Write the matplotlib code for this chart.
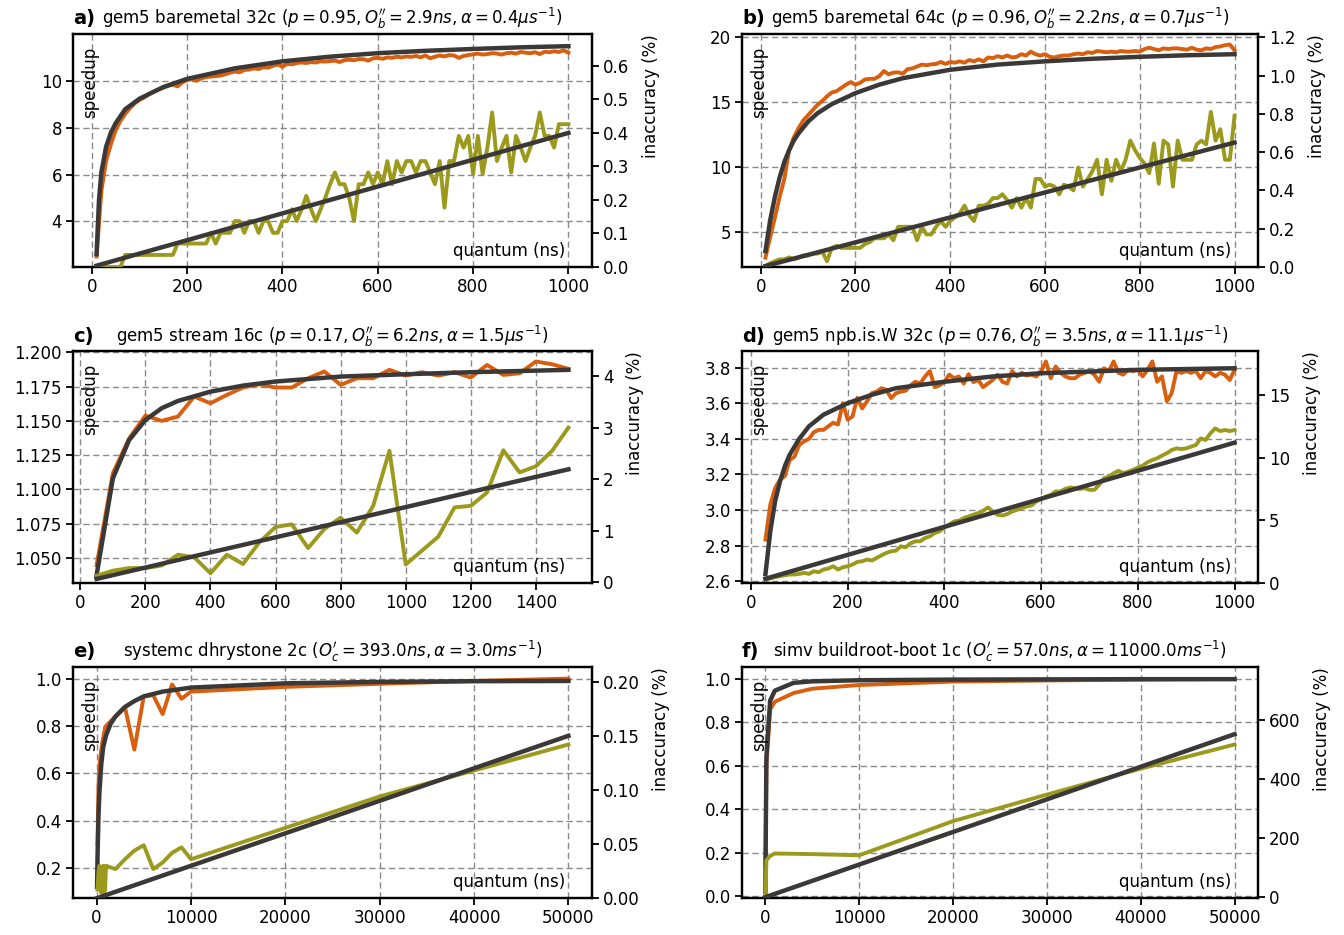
import matplotlib
matplotlib.use("Agg")
import matplotlib.pyplot as plt
from matplotlib.ticker import FixedLocator, FormatStrFormatter

# ---------------- data ----------------
# a) gem5 baremetal 32c
a_q = list(range(10, 1001, 10))
a_speed = [2.5, 5.3, 6.6, 7.3, 7.9, 8.3, 8.6, 8.85, 9.05, 9.2,
           9.3, 9.45, 9.55, 9.65, 9.72, 9.8, 9.85, 9.78, 9.95, 10.05,
           10.08, 10.02, 10.12, 10.18, 10.2, 10.22, 10.24, 10.3, 10.36, 10.42,
           10.38, 10.48, 10.5, 10.55, 10.52, 10.6, 10.58, 10.66, 10.72, 10.62,
           10.74, 10.72, 10.78, 10.8, 10.78, 10.82, 10.8, 10.85, 10.84, 10.86,
           10.88, 10.82, 10.9, 10.92, 10.9, 10.95, 10.94, 10.88, 10.98, 11.0,
           10.96, 11.02, 11.0, 11.05, 11.02, 11.06, 11.04, 11.08, 11.02, 11.1,
           10.98, 11.05, 11.1, 11.06, 11.12, 11.1, 11.0, 11.08, 11.12, 11.15,
           11.18, 11.14, 11.16, 11.2, 11.18, 11.14, 11.2, 11.22, 11.18, 11.25,
           11.22, 11.2, 11.24, 11.16, 11.26, 11.24, 11.28, 11.25, 11.32, 11.22]
a_inacc = [0.0, 0.0, 0.0, 0.0, 0.0, 0.0, 0.036, 0.036, 0.036, 0.036,
           0.036, 0.036, 0.036, 0.036, 0.036, 0.036, 0.036, 0.07, 0.07, 0.07,
           0.07, 0.07, 0.07, 0.07, 0.102, 0.07, 0.102, 0.102, 0.102, 0.137,
           0.137, 0.102, 0.137, 0.137, 0.102, 0.137, 0.137, 0.102, 0.102, 0.137,
           0.137, 0.172, 0.137, 0.172, 0.212, 0.172, 0.137, 0.172, 0.207, 0.247,
           0.282, 0.247, 0.247, 0.207, 0.137, 0.247, 0.247, 0.282, 0.247, 0.282,
           0.247, 0.316, 0.247, 0.316, 0.282, 0.316, 0.316, 0.282, 0.316, 0.316,
           0.282, 0.247, 0.316, 0.177, 0.316, 0.316, 0.391, 0.356, 0.391, 0.277,
           0.391, 0.277, 0.356, 0.461, 0.316, 0.356, 0.391, 0.282, 0.391, 0.356,
           0.316, 0.356, 0.391, 0.461, 0.391, 0.391, 0.356, 0.426, 0.426, 0.426]
a_fit_q = [10, 15, 20, 30, 40, 50, 70, 100, 150, 200, 300, 400, 500, 600, 700, 800, 900, 1000]
a_fit_speed = [2.6, 4.9, 6.1, 7.2, 7.8, 8.2, 8.8, 9.25, 9.75, 10.1, 10.55, 10.85, 11.05, 11.2, 11.3, 11.38, 11.45, 11.5]
a_line_q = [10, 1000]
a_line_inacc = [0.004, 0.40]

# b) gem5 baremetal 64c
b_q = list(range(10, 1001, 10))
b_speed = [3.0, 4.6, 6.1, 7.7, 9.1, 11.3, 12.3, 13.0, 13.6, 14.0,
           14.4, 14.8, 15.1, 15.45, 15.75, 15.85, 16.1, 16.35, 16.55, 16.35,
           16.5, 16.75, 16.8, 16.8, 17.0, 17.4, 17.15, 17.28, 17.3, 17.2,
           17.55, 17.6, 17.75, 17.9, 17.85, 17.92, 17.95, 18.1, 17.95, 18.1,
           18.05, 18.15, 18.05, 18.25, 18.15, 18.3, 18.15, 18.45, 18.4, 18.55,
           18.45, 18.6, 18.45, 18.5, 18.7, 18.6, 18.9, 18.7, 18.6, 18.7,
           18.5, 18.45, 18.55, 18.6, 18.6, 18.7, 18.75, 18.7, 18.85, 18.8,
           18.95, 18.9, 18.85, 18.9, 18.85, 18.95, 18.9, 18.9, 18.95, 18.9,
           19.1, 19.2, 19.1, 19.0, 19.15, 19.1, 19.15, 19.15, 19.1, 19.05,
           19.2, 19.05, 19.0, 19.15, 19.1, 19.25, 19.3, 19.4, 19.45, 19.0]
b_inacc = [0.005, 0.02, 0.03, 0.04, 0.04, 0.05, 0.04, 0.05, 0.06, 0.06,
           0.07, 0.07, 0.08, 0.03, 0.1, 0.11, 0.1, 0.1, 0.1, 0.1,
           0.1, 0.12, 0.13, 0.15, 0.15, 0.15, 0.17, 0.14, 0.21, 0.21,
           0.21, 0.21, 0.14, 0.21, 0.17, 0.17, 0.21, 0.24, 0.21, 0.24,
           0.26, 0.28, 0.32, 0.27, 0.24, 0.32, 0.32, 0.33, 0.36, 0.36,
           0.38, 0.35, 0.31, 0.36, 0.31, 0.36, 0.31, 0.46, 0.46, 0.42,
           0.43, 0.42, 0.38, 0.43, 0.42, 0.4, 0.52, 0.42, 0.46, 0.5,
           0.56, 0.38, 0.56, 0.45, 0.56, 0.5, 0.56, 0.66, 0.61, 0.57,
           0.54, 0.49, 0.645, 0.435, 0.66, 0.64, 0.42, 0.66, 0.56, 0.56,
           0.56, 0.64, 0.66, 0.64, 0.81, 0.66, 0.72, 0.56, 0.56, 0.79]
b_fit_q = [10, 20, 30, 40, 50, 60, 70, 80, 100, 120, 150, 200, 250, 300, 400, 500, 600, 700, 800, 900, 1000]
b_fit_speed = [3.5, 5.9, 7.7, 9.2, 10.4, 11.3, 12.05, 12.6, 13.5, 14.15, 14.85, 15.7, 16.35, 16.85, 17.5, 17.9, 18.15, 18.35, 18.5, 18.62, 18.7]
b_line_q = [10, 1000]
b_line_inacc = [0.005, 0.65]

# c) gem5 stream 16c
c_q = list(range(50, 1501, 50))
c_speed = [1.0446, 1.1117, 1.1372, 1.1538, 1.150, 1.1531, 1.1677, 1.1628, 1.1689, 1.1743,
           1.1767, 1.1743, 1.1743, 1.1811, 1.186, 1.1762, 1.1811, 1.1811, 1.1872, 1.183,
           1.1855, 1.183, 1.1855, 1.1816, 1.1908, 1.1835, 1.1847, 1.1933, 1.1913, 1.1879]
c_inacc = [0.12, 0.22, 0.27, 0.27, 0.32, 0.53, 0.48, 0.17, 0.53, 0.35,
           0.77, 1.07, 1.12, 0.66, 1.03, 1.25, 0.96, 1.48, 2.55, 0.34,
           0.61, 0.88, 1.45, 1.48, 1.74, 2.56, 2.13, 2.25, 2.55, 3.0]
c_fit_q = [50, 100, 150, 200, 250, 300, 400, 500, 600, 800, 1000, 1200, 1500]
c_fit_speed = [1.0373, 1.108, 1.136, 1.1506, 1.1592, 1.1645, 1.1713, 1.1757, 1.1787, 1.1823, 1.184, 1.1855, 1.1872]
c_line_q = [50, 1500]
c_line_inacc = [0.06, 2.19]

# d) gem5 npb.is.W 32c
d_q = list(range(30, 1001, 10))
d_speed = [2.834, 3.03, 3.123, 3.17, 3.19, 3.28, 3.30, 3.366, 3.385, 3.40,
           3.437, 3.45, 3.45, 3.47, 3.49, 3.48, 3.60, 3.507, 3.525, 3.63,
           3.57, 3.61, 3.656, 3.665, 3.684, 3.675, 3.628, 3.656, 3.665, 3.67,
           3.70, 3.72, 3.71, 3.75, 3.78, 3.69, 3.70, 3.72, 3.76, 3.74,
           3.75, 3.71, 3.763, 3.718, 3.73, 3.69, 3.71, 3.73, 3.76, 3.72,
           3.71, 3.78, 3.75, 3.77, 3.755, 3.76, 3.75, 3.78, 3.834, 3.74,
           3.806, 3.77, 3.75, 3.74, 3.74, 3.76, 3.77, 3.78, 3.76, 3.72,
           3.796, 3.78, 3.834, 3.77, 3.76, 3.787, 3.78, 3.787, 3.75, 3.787,
           3.834, 3.72, 3.75, 3.61, 3.656, 3.78, 3.77, 3.78, 3.77, 3.78,
           3.74, 3.78, 3.77, 3.75, 3.77, 3.76, 3.73, 3.787]
d_inacc = [0.24, 0.32, 0.43, 0.5, 0.58, 0.64, 0.64, 0.69, 0.77, 0.69,
           0.9, 0.82, 1.04, 1.12, 1.3, 1.04, 1.22, 1.3, 1.44, 1.65,
           1.70, 1.84, 1.76, 1.97, 2.18, 2.37, 2.5, 2.55, 2.9, 2.82,
           3.14, 3.3, 3.3, 3.56, 3.7, 3.96, 4.1, 4.41, 4.63, 4.89,
           4.95, 5.16, 5.29, 5.43, 5.56, 5.74, 6.01, 5.69, 5.43, 5.37,
           5.48, 5.69, 5.82, 5.96, 6.09, 6.17, 6.49, 6.7, 6.89, 7.02,
           7.29, 7.29, 7.5, 7.61, 7.55, 7.5, 7.55, 7.42, 7.42, 7.82,
           8.35, 8.48, 8.75, 8.94, 8.75, 8.88, 9.02, 9.2, 9.36, 9.63,
           9.81, 9.95, 10.16, 10.35, 10.61, 10.74, 10.69, 10.74, 10.88, 11.01,
           11.54, 11.41, 11.94, 12.34, 12.13, 12.21, 12.13, 12.21]
d_fit_q = [30, 40, 50, 60, 70, 80, 100, 120, 150, 200, 250, 300, 400, 500, 600, 800, 1000]
d_fit_speed = [2.64, 2.88, 3.05, 3.16, 3.245, 3.31, 3.40, 3.47, 3.535, 3.60, 3.647, 3.684, 3.72, 3.75, 3.768, 3.787, 3.796]
d_line_q = [30, 1000]
d_line_inacc = [0.3, 11.2]

# e) systemc dhrystone 2c
e_q = [100, 200, 300, 400, 500, 600, 700, 800, 900, 1000,
       2000, 3000, 4000, 5000, 6000, 7000, 8000, 9000, 10000,
       20000, 30000, 40000, 50000]
e_speed = [0.3, 0.55, 0.62, 0.67, 0.7, 0.73, 0.75, 0.77, 0.79, 0.8,
           0.84, 0.88, 0.70, 0.925, 0.93, 0.85, 0.975, 0.915, 0.945,
           0.965, 0.978, 0.99, 1.0]
e_inacc = [0.008, 0.024, 0.030, 0.028, 0.005, 0.008, 0.030, 0.005, 0.008, 0.030,
           0.027, 0.036, 0.044, 0.049, 0.027, 0.033, 0.042, 0.047, 0.036,
           0.065, 0.094, 0.118, 0.142]
e_fit_q = [50, 100, 200, 300, 500, 700, 1000, 1500, 2000, 3000, 4000, 5000, 7000, 10000, 20000, 30000, 40000, 50000]
e_fit_speed = [0.12, 0.25, 0.42, 0.52, 0.64, 0.71, 0.76, 0.81, 0.84, 0.88, 0.905, 0.925, 0.945, 0.962, 0.98, 0.986, 0.989, 0.99]
e_line_q = [0, 50000]
e_line_inacc = [0.0, 0.15]

# f) simv buildroot-boot 1c
f_q = [10, 100, 500, 1000, 3000, 5000, 10000, 20000, 30000, 40000, 50000]
f_speed = [0.15, 0.6, 0.86, 0.895, 0.935, 0.955, 0.972, 0.988, 0.993, 0.997, 1.0]
f_inacc = [0, 125, 140, 148, 147, 146, 142, 258, 348, 436, 518]
f_fit_q = [1, 10, 100, 500, 1000, 3000, 5000, 10000, 20000, 30000, 40000, 50000]
f_fit_speed = [0.017, 0.15, 0.64, 0.9, 0.946, 0.982, 0.989, 0.994, 0.997, 0.998, 0.999, 0.999]
f_line_q = [0, 50000]
f_line_inacc = [0.0, 553]

# ---------------- style ----------------
ORANGE = "#d95f0e"
OLIVE = "#9b9a1c"
DARK = "#3b3838"
GRID = "#8a8a8a"

W, H = 1344, 935
fig = plt.figure(figsize=(W / 100, H / 100), dpi=100)


def rect(left, top, right, bottom):
    return [left / W, 1 - bottom / H, (right - left) / W, (bottom - top) / H]


panels = [
    dict(label="a)", title=r"gem5 baremetal 32c ($p = 0.95, O_b^{\prime\prime} = 2.9ns, \alpha = 0.4\mu s^{-1}$)",
         box=rect(73, 34, 592, 267), q=a_q, s=a_speed, i=a_inacc, fq=a_fit_q, fs=a_fit_speed,
         lq=a_line_q, li=a_line_inacc, xlim=(-39.5, 1049.5), ylim=(2.05, 12.02), y2lim=(0, 0.695),
         xt=[0, 200, 400, 600, 800, 1000], yt=[4, 6, 8, 10], y2t=[0, 0.1, 0.2, 0.3, 0.4, 0.5, 0.6],
         yf="%g", y2f="%.1f"),
    dict(label="b)", title=r"gem5 baremetal 64c ($p = 0.96, O_b^{\prime\prime} = 2.2ns, \alpha = 0.7\mu s^{-1}$)",
         box=rect(742, 34, 1258, 267), q=b_q, s=b_speed, i=b_inacc, fq=b_fit_q, fs=b_fit_speed,
         lq=b_line_q, li=b_line_inacc, xlim=(-39.5, 1049.5), ylim=(2.28, 20.26), y2lim=(0, 1.217),
         xt=[0, 200, 400, 600, 800, 1000], yt=[5, 10, 15, 20], y2t=[0, 0.2, 0.4, 0.6, 0.8, 1.0, 1.2],
         yf="%g", y2f="%.1f"),
    dict(label="c)", title=r"gem5 stream 16c ($p = 0.17, O_b^{\prime\prime} = 6.2ns, \alpha = 1.5\mu s^{-1}$)",
         box=rect(73, 351.5, 592, 582.5), q=c_q, s=c_speed, i=c_inacc, fq=c_fit_q, fs=c_fit_speed,
         lq=c_line_q, li=c_line_inacc, xlim=(-22.5, 1572.5), ylim=(1.032, 1.2006), y2lim=(-0.01, 4.48),
         xt=[0, 200, 400, 600, 800, 1000, 1200, 1400],
         yt=[1.050, 1.075, 1.100, 1.125, 1.150, 1.175, 1.200], y2t=[0, 1, 2, 3, 4],
         yf="%.3f", y2f="%d"),
    dict(label="d)", title=r"gem5 npb.is.W 32c ($p = 0.76, O_b^{\prime\prime} = 3.5ns, \alpha = 11.1\mu s^{-1}$)",
         box=rect(742, 351.5, 1258, 582.5), q=d_q, s=d_speed, i=d_inacc, fq=d_fit_q, fs=d_fit_speed,
         lq=d_line_q, li=d_line_inacc, xlim=(-18.5, 1048.5), ylim=(2.593, 3.89), y2lim=(0, 18.5),
         xt=[0, 200, 400, 600, 800, 1000], yt=[2.6, 2.8, 3.0, 3.2, 3.4, 3.6, 3.8], y2t=[0, 5, 10, 15],
         yf="%.1f", y2f="%d"),
    dict(label="e)", title=r"systemc dhrystone 2c ($O_c^{\prime} = 393.0ns, \alpha = 3.0ms^{-1}$)",
         box=rect(73, 667, 592, 898.3), q=e_q, s=e_speed, i=e_inacc, fq=e_fit_q, fs=e_fit_speed,
         lq=e_line_q, li=e_line_inacc, xlim=(-2500, 52500), ylim=(0.072, 1.049), y2lim=(0, 0.2135),
         xt=[0, 10000, 20000, 30000, 40000, 50000], yt=[0.2, 0.4, 0.6, 0.8, 1.0],
         y2t=[0, 0.05, 0.10, 0.15, 0.20], yf="%.1f", y2f="%.2f"),
    dict(label="f)", title=r"simv buildroot-boot 1c ($O_c^{\prime} = 57.0ns, \alpha = 11000.0ms^{-1}$)",
         box=rect(742, 667, 1258, 898.3), q=f_q, s=f_speed, i=f_inacc, fq=f_fit_q, fs=f_fit_speed,
         lq=f_line_q, li=f_line_inacc, xlim=(-2500, 52500), ylim=(-0.0106, 1.055), y2lim=(-4, 781),
         xt=[0, 10000, 20000, 30000, 40000, 50000], yt=[0.0, 0.2, 0.4, 0.6, 0.8, 1.0],
         y2t=[0, 200, 400, 600], yf="%.1f", y2f="%d"),
]

FS = 12
for p in panels:
    ax = fig.add_axes(p["box"])
    ax2 = ax.twinx()
    ax.set_zorder(1)
    ax2.set_zorder(2)
    ax.patch.set_visible(True)
    ax2.patch.set_visible(False)

    ax.plot(p["q"], p["s"], color=ORANGE, lw=2.8, zorder=3)
    ax.plot(p["fq"], p["fs"], color=DARK, lw=3.2, zorder=4)
    ax2.plot(p["q"], p["i"], color=OLIVE, lw=2.8, zorder=3)
    ax2.plot(p["lq"], p["li"], color=DARK, lw=3.2, zorder=4)

    ax.set_xlim(*p["xlim"])
    ax.set_ylim(*p["ylim"])
    ax2.set_ylim(*p["y2lim"])
    ax.xaxis.set_major_locator(FixedLocator(p["xt"]))
    ax.yaxis.set_major_locator(FixedLocator(p["yt"]))
    ax2.yaxis.set_major_locator(FixedLocator(p["y2t"]))
    ax.yaxis.set_major_formatter(FormatStrFormatter(p["yf"]))
    ax2.yaxis.set_major_formatter(FormatStrFormatter(p["y2f"]))

    ax.grid(True, color=GRID, linestyle=(0, (4.5, 2.6)), linewidth=1.0, zorder=0)
    ax.set_axisbelow(True)

    for a in (ax, ax2):
        for sp in a.spines.values():
            sp.set_linewidth(1.6)
            sp.set_color("black")
        a.tick_params(axis="both", which="major", direction="out", length=5,
                      width=1.3, labelsize=FS, colors="black", pad=3)

    ax.text(0.033, 0.945, "speedup", transform=ax.transAxes, rotation=90,
            ha="center", va="top", fontsize=FS, zorder=10)
    ax.text(0.948, 0.03, "quantum (ns)", transform=ax.transAxes,
            ha="right", va="bottom", fontsize=FS, zorder=10)
    ax2.set_ylabel("inaccuracy (%)", fontsize=FS, loc="top", labelpad=9)

    ax.set_title(p["title"], fontsize=FS, pad=7)
    ax.set_title(p["label"], loc="left", fontsize=14, fontweight="bold", pad=7)

fig.savefig("out.png", dpi=100)
